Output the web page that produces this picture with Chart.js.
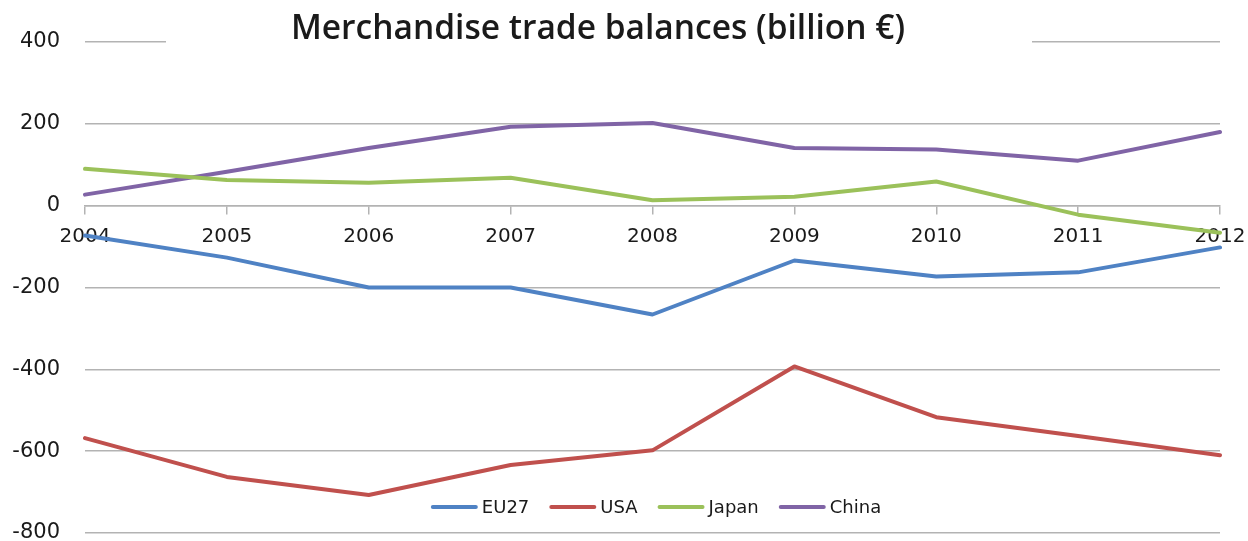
<!DOCTYPE html>
<html>
<head>
<meta charset="utf-8">
<script src="https://cdn.jsdelivr.net/npm/chart.js@4.4.1/dist/chart.umd.min.js"></script>
<style>
    html, body { margin: 0; padding: 0; background: #ffffff; }
    #wrap { width: 1248px; height: 541px; }
</style>
</head>
<body>
<div id="wrap"><canvas id="trade-chart"></canvas></div>
<script>
const years = ['2004', '2005', '2006', '2007', '2008', '2009', '2010', '2011', '2012'];
const eu27 = [-73, -127, -200, -200, -266, -134, -173, -163, -102];
const usa = [-568, -663, -707, -634, -598, -393, -517, -563, -610];
const japan = [90, 63, 56, 68, 13, 22, 59, -22, -66];
const china = [27, 83, 141, 193, 202, 141, 137, 110, 180];
const yTicks = [400, 200, 0, -200, -400, -600, -800];

const chartTitle = 'Merchandise trade balances (billion €)';
const titleFont = '"Open Sans", "DejaVu Sans", sans-serif';
const tickFont = '"DejaVu Sans", Verdana, sans-serif';

// title sits on top of the 400 gridline with a white box behind it
const titlePlugin = {
    id: 'titleBox',
    afterDraw(chart) {
        const ctx = chart.ctx;
        ctx.save();
        ctx.fillStyle = '#ffffff';
        ctx.fillRect(166, 0, 866, 60);
        ctx.fillStyle = '#1a1a1a';
        ctx.font = '600 33.5px ' + titleFont;
        ctx.textAlign = 'center';
        ctx.textBaseline = 'middle';
        ctx.fillText(chartTitle, 598, 29);
        ctx.restore();
    }
};

// legend drawn inside the plot area near the bottom
const legendPlugin = {
    id: 'innerLegend',
    afterDraw(chart) {
        const ctx = chart.ctx;
        const y = 507;
        const sample = 47;
        const gap = 4;
        const spacing = 20;
        ctx.save();
        ctx.font = '18px ' + tickFont;
        ctx.textBaseline = 'middle';
        const items = chart.data.datasets.map(ds => ({
            label: ds.label,
            color: ds.borderColor,
            w: sample + gap + ctx.measureText(ds.label).width
        }));
        const total = items.reduce((s, it) => s + it.w, 0) + spacing * (items.length - 1);
        let x = 656 - total / 2;
        items.forEach(it => {
            ctx.strokeStyle = it.color;
            ctx.lineWidth = 4;
            ctx.lineCap = 'round';
            ctx.beginPath();
            ctx.moveTo(x + 2, y);
            ctx.lineTo(x + sample - 2, y);
            ctx.stroke();
            ctx.fillStyle = '#1a1a1a';
            ctx.fillText(it.label, x + sample + gap, y + 1);
            x += it.w + spacing;
        });
        ctx.restore();
    }
};

const ctx = document.getElementById('trade-chart').getContext('2d');

new Chart(ctx, {
    type: 'line',
    data: {
        labels: years,
        datasets: [
            { label: 'EU27', data: eu27, borderColor: '#4f82c4' },
            { label: 'USA', data: usa, borderColor: '#c0504d' },
            { label: 'Japan', data: japan, borderColor: '#9bc15a' },
            { label: 'China', data: china, borderColor: '#8064a6' }
        ]
    },
    options: {
        responsive: true,
        maintainAspectRatio: false,
        animation: false,
        devicePixelRatio: 1,
        layout: {
            padding: { top: 42, right: 28, bottom: 8, left: 0 }
        },
        elements: {
            line: { borderWidth: 4, tension: 0, borderCapStyle: 'round', borderJoinStyle: 'round' },
            point: { radius: 0, hoverRadius: 0 }
        },
        scales: {
            x: {
                position: { y: 0 },
                offset: false,
                grid: {
                    display: true,
                    drawOnChartArea: false,
                    drawTicks: true,
                    tickLength: 8,
                    color: '#b3b3b3',
                    lineWidth: 1.5
                },
                border: { display: true, color: '#b3b3b3', width: 1.5 },
                ticks: {
                    color: '#1a1a1a',
                    // tall line height pushes labels down without widening the side padding
                    font: { family: tickFont, size: 20, lineHeight: 2.1 },
                    padding: 2,
                    maxRotation: 0,
                    autoSkip: false
                }
            },
            y: {
                min: -800,
                max: 400,
                afterFit(scale) { scale.width = 85; },
                afterBuildTicks(scale) { scale.ticks = yTicks.map(v => ({ value: v })); },
                grid: {
                    color: '#b3b3b3',
                    lineWidth: 1.5,
                    drawTicks: true,
                    tickLength: 25,
                    tickColor: 'rgba(0,0,0,0)'
                },
                border: { display: false },
                ticks: {
                    color: '#1a1a1a',
                    font: { family: tickFont, size: 21, lineHeight: 0.75 },
                    padding: 0
                }
            }
        },
        plugins: {
            legend: { display: false },
            title: { display: false },
            tooltip: { enabled: false }
        }
    },
    plugins: [titlePlugin, legendPlugin]
});
</script>
</body>
</html>
